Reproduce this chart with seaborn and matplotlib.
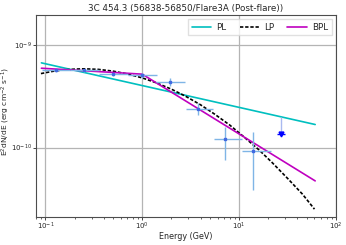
import numpy as np
import pandas as pd
import seaborn as sns
import matplotlib.pyplot as plt
from matplotlib.ticker import LogLocator, NullLocator, NullFormatter

# Pontos do espectro (Fermi-LAT)
energy = [0.13, 0.25, 0.5, 1.0, 1.95, 3.75, 7.2, 14.0]
e_lo = [0.092, 0.18, 0.36, 0.71, 1.38, 2.85, 5.5, 10.8]
e_hi = [0.18, 0.36, 0.71, 1.43, 2.78, 5.4, 10.7, 21.2]
flux = [5.7e-10, 5.7e-10, 5.2e-10, 5.1e-10, 4.4e-10, 2.4e-10, 1.2e-10, 9.2e-11]
f_lo = [5.5e-10, 5.5e-10, 5.0e-10, 4.85e-10, 4.05e-10, 2.08e-10, 7.5e-11, 3.8e-11]
f_hi = [5.9e-10, 5.9e-10, 5.4e-10, 5.35e-10, 4.8e-10, 2.75e-10, 1.59e-10, 1.42e-10]

# Limite superior
ul_energy = [26.9]
ul_top = [2.0e-10]
ul_flux = [1.35e-10]

# Curvas dos modelos
pl_e = [0.091, 61.0]
pl_f = [6.75e-10, 1.68e-10]

bpl_e = [0.091, 1.0, 61.0]
bpl_f = [5.98e-10, 5.23e-10, 4.71e-11]

lp_e = [0.09, 0.12, 0.15, 0.2, 0.25, 0.35, 0.5, 0.7, 1.0, 1.4, 2.0, 2.8, 4.0,
        5.6, 8.0, 11.0, 16.0, 22.0, 32.0, 45.0, 60.0]
lp_f = [5.30e-10, 5.58e-10, 5.74e-10, 5.86e-10, 5.90e-10, 5.83e-10, 5.60e-10,
        5.26e-10, 4.81e-10, 4.30e-10, 3.73e-10, 3.18e-10, 2.62e-10, 2.12e-10,
        1.66e-10, 1.29e-10, 9.50e-11, 7.10e-11, 4.93e-11, 3.50e-11, 2.49e-11]

x_ticks = [0.1, 1, 10, 100]
y_ticks = [1e-10, 1e-9]

models = pd.DataFrame({
    'E': pl_e + lp_e + bpl_e,
    'flux': pl_f + lp_f + bpl_f,
    'model': ['PL'] * len(pl_e) + ['LP'] * len(lp_e) + ['BPL'] * len(bpl_e),
})

sns.set_style('ticks')
plt.rcParams['font.family'] = ['DejaVu Sans']

fig = plt.figure(figsize=(3.46, 2.45), dpi=100)
ax = fig.add_axes([0.104, 0.1155, 0.867, 0.8245])
ax.set_xscale('log')
ax.set_yscale('log')

sns.lineplot(data=models, x='E', y='flux', hue='model', style='model',
             palette={'PL': 'c', 'LP': 'k', 'BPL': 'm'},
             dashes={'PL': '', 'LP': (2.0, 1.1), 'BPL': ''},
             hue_order=['PL', 'LP', 'BPL'], estimator=None, sort=True,
             linewidth=1.2, ax=ax)

x = np.array(energy)
y = np.array(flux)
xerr = [x - np.array(e_lo), np.array(e_hi) - x]
yerr = [y - np.array(f_lo), np.array(f_hi) - y]
ax.errorbar(x, y, xerr=xerr, yerr=yerr, fmt='s', ms=2, color='royalblue',
            ecolor='#7fb5e6', elinewidth=1.0, capsize=0, zorder=3)

# seta do limite superior
ax.vlines(ul_energy, ul_flux, ul_top, color='#a9b9f0', lw=1.0, zorder=3)
ax.plot(ul_energy, ul_flux, marker='v', ms=3.5, color='blue', ls='none', zorder=4)
ax.plot(ul_energy, ul_flux, marker='_', ms=5.5, mew=1.0, color='blue', ls='none', zorder=4)

ax.set_xlim(0.08, 100)
ax.set_ylim(2.1e-11, 2.0e-9)
ax.set_xticks(x_ticks)
ax.set_yticks(y_ticks)
ax.xaxis.set_minor_locator(LogLocator(base=10, subs=np.arange(2, 10)))
ax.xaxis.set_minor_formatter(NullFormatter())
ax.yaxis.set_minor_locator(NullLocator())
ax.grid(True, which='major', color='#b4b4b4', lw=0.9)
ax.tick_params(labelsize=5.0, length=2.0, width=0.6, pad=0.8)
ax.tick_params(which='minor', length=1.5, width=0.5)
for s in ax.spines.values():
    s.set_color('0.3')
    s.set_linewidth(0.8)

ax.set_title('3C 454.3 (56838-56850/Flare3A (Post-flare))', fontsize=6.3, pad=3)
ax.set_xlabel('Energy (GeV)', fontsize=5.8)
ax.set_ylabel(r'E$^2$dN/dE (erg cm$^{-2}$ s$^{-1}$)', fontsize=5.4)
ax.xaxis.set_label_coords(0.5, -0.075)
ax.yaxis.set_label_coords(-0.079, 0.52)

handles, labels = ax.get_legend_handles_labels()
ax.legend(handles, labels, ncol=3, loc='upper right', fontsize=6.3,
          frameon=True, fancybox=False, edgecolor='0.85',
          handlelength=2.2, handletextpad=0.6, columnspacing=1.5,
          borderaxespad=0.5)

plt.savefig('out.png', dpi=100)
